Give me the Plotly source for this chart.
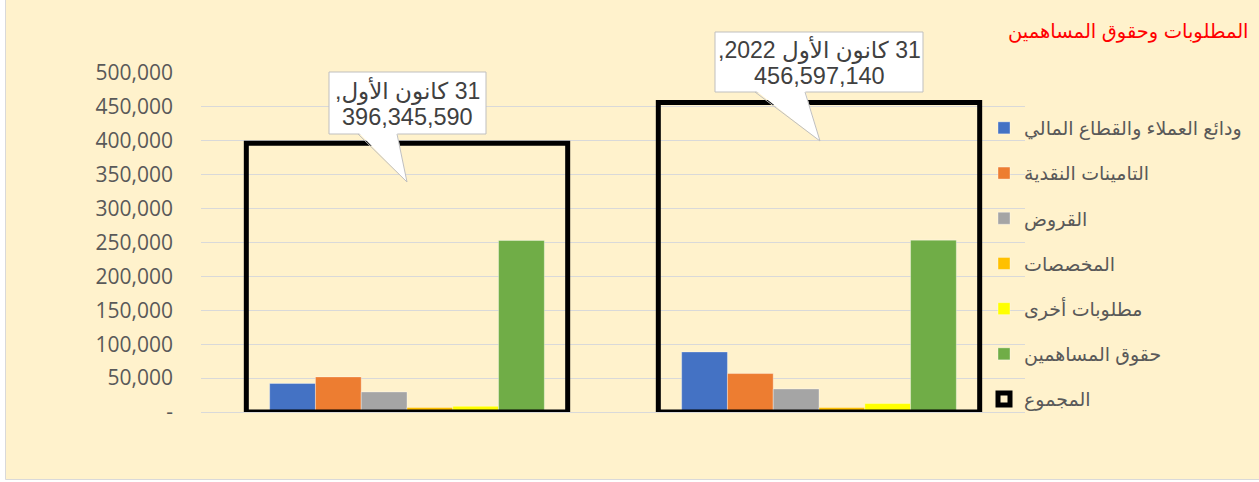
import plotly.graph_objects as go

# ---------------- data ----------------
categories = ["31 كانون الأول", "31 كانون الأول 2022"]
series_names = [
    "ودائع العملاء والقطاع المالي",
    "التامينات النقدية",
    "القروض",
    "المخصصات",
    "مطلوبات أخرى",
    "حقوق المساهمين",
]
deposits = [42000, 88600]
cash_margins = [51800, 56700]
loans = [29600, 34000]
provisions = [6800, 6500]
other_liabilities = [8400, 12400]
equity = [253000, 253500]
total_name = "المجموع"
totals = [396345590, 456597140]          # shown in callouts
callout_prefix = ["31 كانون الأول,", "31 كانون الأول 2022,"]
title_text = "المطلوبات وحقوق المساهمين"
tick_values = [0, 50000, 100000, 150000, 200000, 250000, 300000, 350000, 400000, 450000, 500000]
tick_labels = ["-", "50,000", "100,000", "150,000", "200,000", "250,000",
               "300,000", "350,000", "400,000", "450,000", "500,000"]

series_values = [deposits, cash_margins, loans, provisions, other_liabilities, equity]
colors = ["#4472C4", "#ED7D31", "#A5A5A5", "#FFC000", "#FFFF00", "#70AD47"]

# ---------------- layout helpers ----------------
W, H = 1259, 482
ML, MR, MT, MB = 201, 234, 73, 70
PW, PH = W - ML - MR, H - MT - MB


def px_x(px):
    return (px - ML) / PW


def px_y(py):
    return (H - MB - py) / PH


AR_FONT = "Liberation Sans, DejaVu Sans, Arial, sans-serif"

fig = go.Figure()

group_w = 2 / 3
bar_w = group_w / len(series_values)
for i, (name, vals, col) in enumerate(zip(series_names, series_values, colors)):
    fig.add_trace(go.Bar(
        x=categories, y=vals, name=name,
        marker=dict(color=col, line=dict(color="rgba(255,255,255,0.35)", width=1)),
        width=bar_w, offset=-group_w / 2 + i * bar_w,
        legendgroup=f"g{i}",
    ))

total_w = 0.78
fig.add_trace(go.Bar(
    x=categories, y=[t / 1000 for t in totals], name=total_name,
    marker=dict(color="rgba(0,0,0,0)", line=dict(color="black", width=5)),
    width=total_w, offset=-total_w / 2,
    legendgroup="gt",
))

# ---------------- callouts (decoration) ----------------
callouts = [
    dict(rect=(329, 72, 486, 134), base=(358, 397), tip=(407, 182)),
    dict(rect=(715, 32, 923, 92), base=(755, 805), tip=(820, 141)),
]
shapes = []
annotations = []
# chart area background + border
shapes.append(dict(type="rect", xref="paper", yref="paper", layer="below",
                   x0=px_x(5.5), x1=px_x(1270), y0=px_y(-10), y1=px_y(479.5),
                   fillcolor="#FFF2CC", line=dict(color="#D9D9D9", width=1)))
for k, c in enumerate(callouts):
    x0, y0, x1, y1 = c["rect"]
    bl, br = c["base"]
    tx, ty = c["tip"]
    shapes.append(dict(type="rect", xref="paper", yref="paper",
                       x0=px_x(x0), x1=px_x(x1), y0=px_y(y0), y1=px_y(y1),
                       fillcolor="white", line=dict(color="#BFBFBF", width=1)))
    shapes.append(dict(type="path", xref="paper", yref="paper",
                       path=f"M{px_x(bl)},{px_y(y1 - 2)} L{px_x(tx)},{px_y(ty)} L{px_x(br)},{px_y(y1 - 2)} Z",
                       fillcolor="white", line=dict(width=0)))
    shapes.append(dict(type="path", xref="paper", yref="paper",
                       path=f"M{px_x(bl)},{px_y(y1)} L{px_x(tx)},{px_y(ty)} L{px_x(br)},{px_y(y1)}",
                       fillcolor="rgba(0,0,0,0)", line=dict(color="#BFBFBF", width=1)))
    cy = (y0 + y1) / 2
    annotations.append(dict(
        xref="paper", yref="paper", x=px_x((x0 + x1) / 2), y=px_y(cy - 12),
        xanchor="center", yanchor="middle", showarrow=False,
        text="\u202b" + callout_prefix[k] + "\u202c",
        font=dict(family=AR_FONT, size=23, color="#404040"),
    ))
    annotations.append(dict(
        xref="paper", yref="paper", x=px_x((x0 + x1) / 2), y=px_y(cy + 14),
        xanchor="center", yanchor="middle", showarrow=False,
        text=f"{totals[k]:,}",
        font=dict(family=AR_FONT, size=23.5, color="#404040"),
    ))

annotations.append(dict(
    xref="paper", yref="paper", x=px_x(1251), y=px_y(31),
    xanchor="right", yanchor="middle", showarrow=False,
    text=title_text, font=dict(family=AR_FONT, size=19.5, color="#FF0000"),
))

fig.update_layout(
    width=W, height=H,
    margin=dict(l=ML, r=MR, t=MT, b=MB),
    barmode="overlay",
    paper_bgcolor="white",
    plot_bgcolor="rgba(0,0,0,0)",
    showlegend=True,
    legend=dict(
        x=px_x(984), y=px_y(109), xanchor="left", yanchor="top",
        bgcolor="rgba(0,0,0,0)", traceorder="grouped", tracegroupgap=17.5,
        font=dict(family=AR_FONT, size=19, color="#595959"),
    ),
    xaxis=dict(showticklabels=False, showgrid=False, zeroline=False, showline=False,
               ticks="", range=[-0.5, 1.5]),
    yaxis=dict(range=[0, 500000], tickvals=tick_values, ticktext=tick_labels,
               showgrid=True, gridcolor="#D9D9D9", gridwidth=1,
               zeroline=True, zerolinecolor="#D9D9D9", zerolinewidth=1,
               showline=False, ticks="", ticklabelstandoff=27,
               tickfont=dict(family="Open Sans, sans-serif", size=21, color="#595959")),
    shapes=shapes,
    annotations=annotations,
)

fig.write_html("out.html", config={"displayModeBar": False},
               post_script="document.body.style.margin='0';")
